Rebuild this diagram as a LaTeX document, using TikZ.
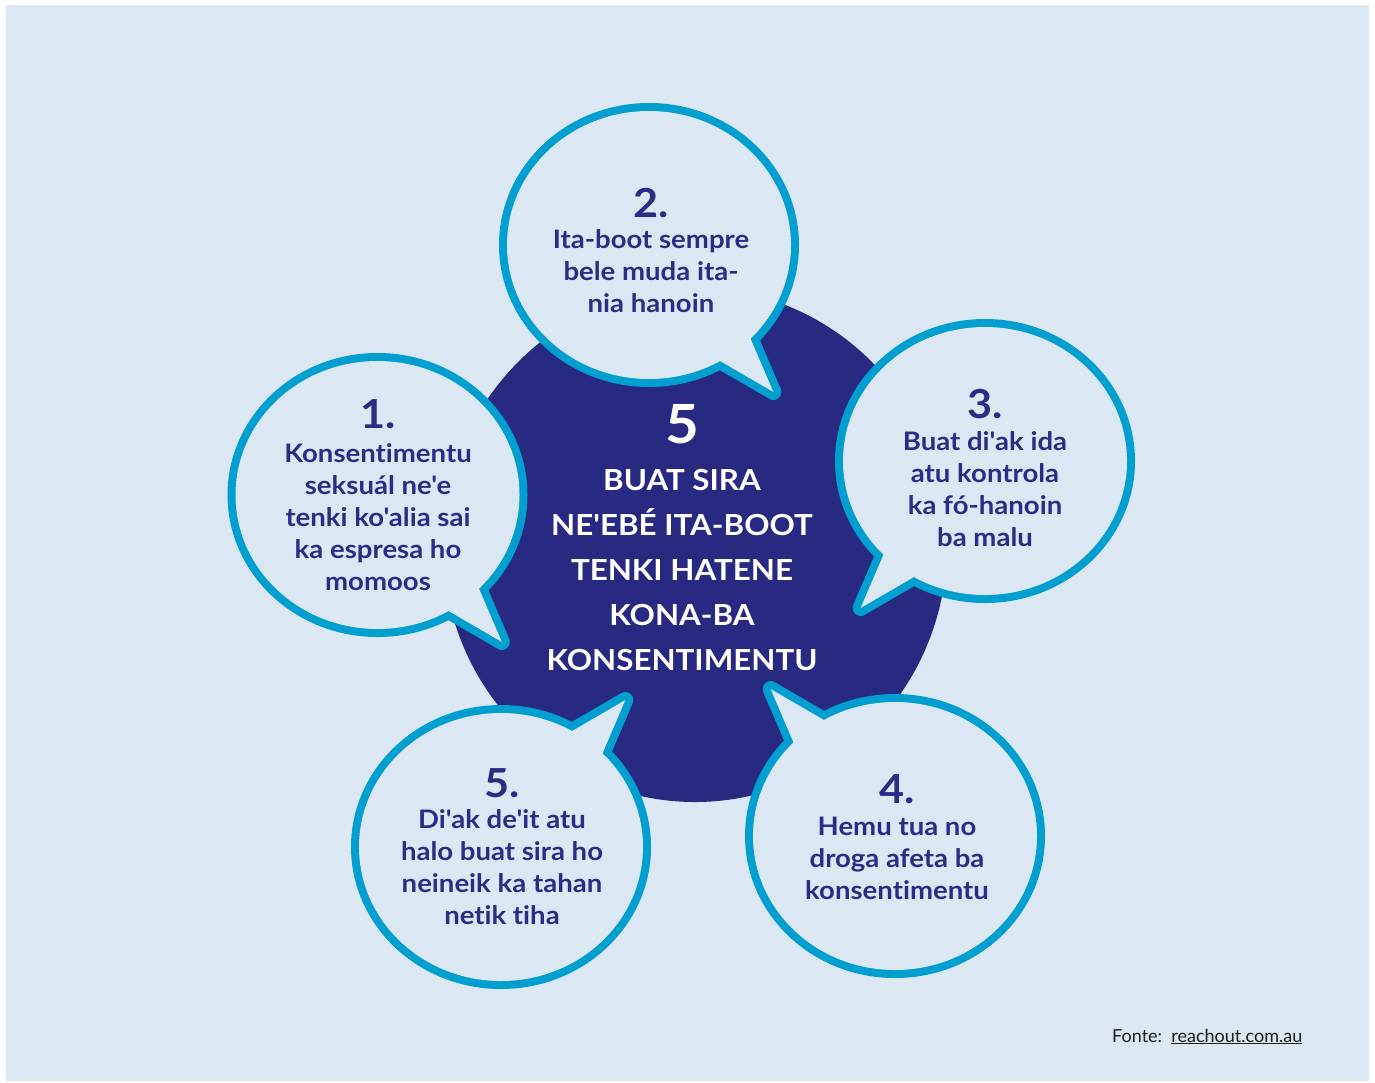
\documentclass[tikz,border=0pt]{standalone}
\usepackage{fontspec}
\setmainfont{Lato}[Ligatures={TeXOff,CommonOff}]
\newfontfamily\widefont{Lato}[FakeStretch=1.08, Ligatures={TeXOff,CommonOff}]
\usetikzlibrary{calc}
\definecolor{bg}{HTML}{DBE8F3}
\definecolor{cyanb}{HTML}{009FCF}
\definecolor{navy}{HTML}{282A82}
\definecolor{txt}{HTML}{2A2D85}
\definecolor{foot}{HTML}{1E1E1E}
\tikzset{
  bubstroke/.style={line width=16pt, draw=cyanb, line join=round},
  numtxt/.style={text=txt, font=\widefont\fontsize{40}{40}\selectfont\bfseries, anchor=base, inner sep=0pt},
  bubtxt/.style={text=txt, font=\widefont\fontsize{25.5}{32}\selectfont\bfseries, anchor=base, inner sep=0pt},
  midnum/.style={text=white, font=\widefont\fontsize{54}{54}\selectfont\bfseries, anchor=base, inner sep=0pt},
  midtxt/.style={text=white, font=\widefont\fontsize{29}{45.2}\selectfont\bfseries, anchor=base, inner sep=0pt},
}
\newcommand\speechbubble[4]{%
  \begin{scope}[shift={(#1,#2)}, xscale=#3, yscale=#4]
    \draw[bubstroke] (0,0) ellipse[x radius=142, y radius=134];
    \draw[bubstroke] (92.9,73.5) -- (124.3,146.9) -- (41.35,98.75) -- cycle;
    \fill[bg] (0,0) ellipse[x radius=142, y radius=134];
    \fill[bg] (92.9,73.5) -- (124.3,146.9) -- (41.35,98.75) -- cycle;
  \end{scope}}
\newcommand\lines[1]{\begin{tabular}[t]{@{}c@{}}#1\end{tabular}}
\begin{document}
\begin{tikzpicture}[x=1pt, y=-1pt]
  \useasboundingbox (0,0) rectangle (1375,1082);
  \fill[white] (0,0) rectangle (1375,1082);
  \fill[bg] (6,5) rectangle (1369,1081);
  % central circle
  \fill[navy] (695,545) ellipse[x radius=252, y radius=257];
  % bubbles
  \speechbubble{377.5}{495}{1}{1}
  \speechbubble{649}{245}{1}{1}
  \speechbubble{985}{461}{-1}{1}
  \speechbubble{895}{836}{-1}{-1}
  \speechbubble{501}{847}{1}{-1}
  % central text
  \node[midnum] (mnum) at (682,443) {5};
  \node[midtxt] (mtxt) at (682,490) {\lines{BUAT SIRA\\NE'EBÉ ITA-BOOT\\TENKI HATENE\\KONA-BA\\KONSENTIMENTU}};
  % bubble 1
  \node[numtxt] (n1) at (378,428) {1.};
  \node[bubtxt] (t1) at (378,462) {\lines{Konsentimentu\\seksuál ne'e\\tenki ko'alia sai\\ka espresa ho\\momoos}};
  % bubble 2
  \node[numtxt] (n2) at (651,217) {2.};
  \node[bubtxt] (t2) at (651,248) {\lines{Ita-boot sempre\\bele muda ita-\\nia hanoin}};
  % bubble 3
  \node[numtxt] (n3) at (985,418) {3.};
  \node[bubtxt] (t3) at (985,450) {\lines{Buat di'ak ida\\atu kontrola\\ka fó-hanoin\\ba malu}};
  % bubble 4
  \node[numtxt] (n4) at (897,803) {4.};
  \node[bubtxt] (t4) at (897,835) {\lines{Hemu tua no\\droga afeta ba\\konsentimentu}};
  % bubble 5
  \node[numtxt] (n5) at (502,797) {5.};
  \node[bubtxt] (t5) at (502,828) {\lines{Di'ak de'it atu\\halo buat sira ho\\neineik ka tahan\\netik tiha}};
  % footer
  \node[anchor=base west, inner sep=0pt, text=foot, font=\fontsize{18}{20}\selectfont] (src) at (1112,1042) {Fonte:\ \ \underline{reachout.com.au}};
\end{tikzpicture}
\end{document}
